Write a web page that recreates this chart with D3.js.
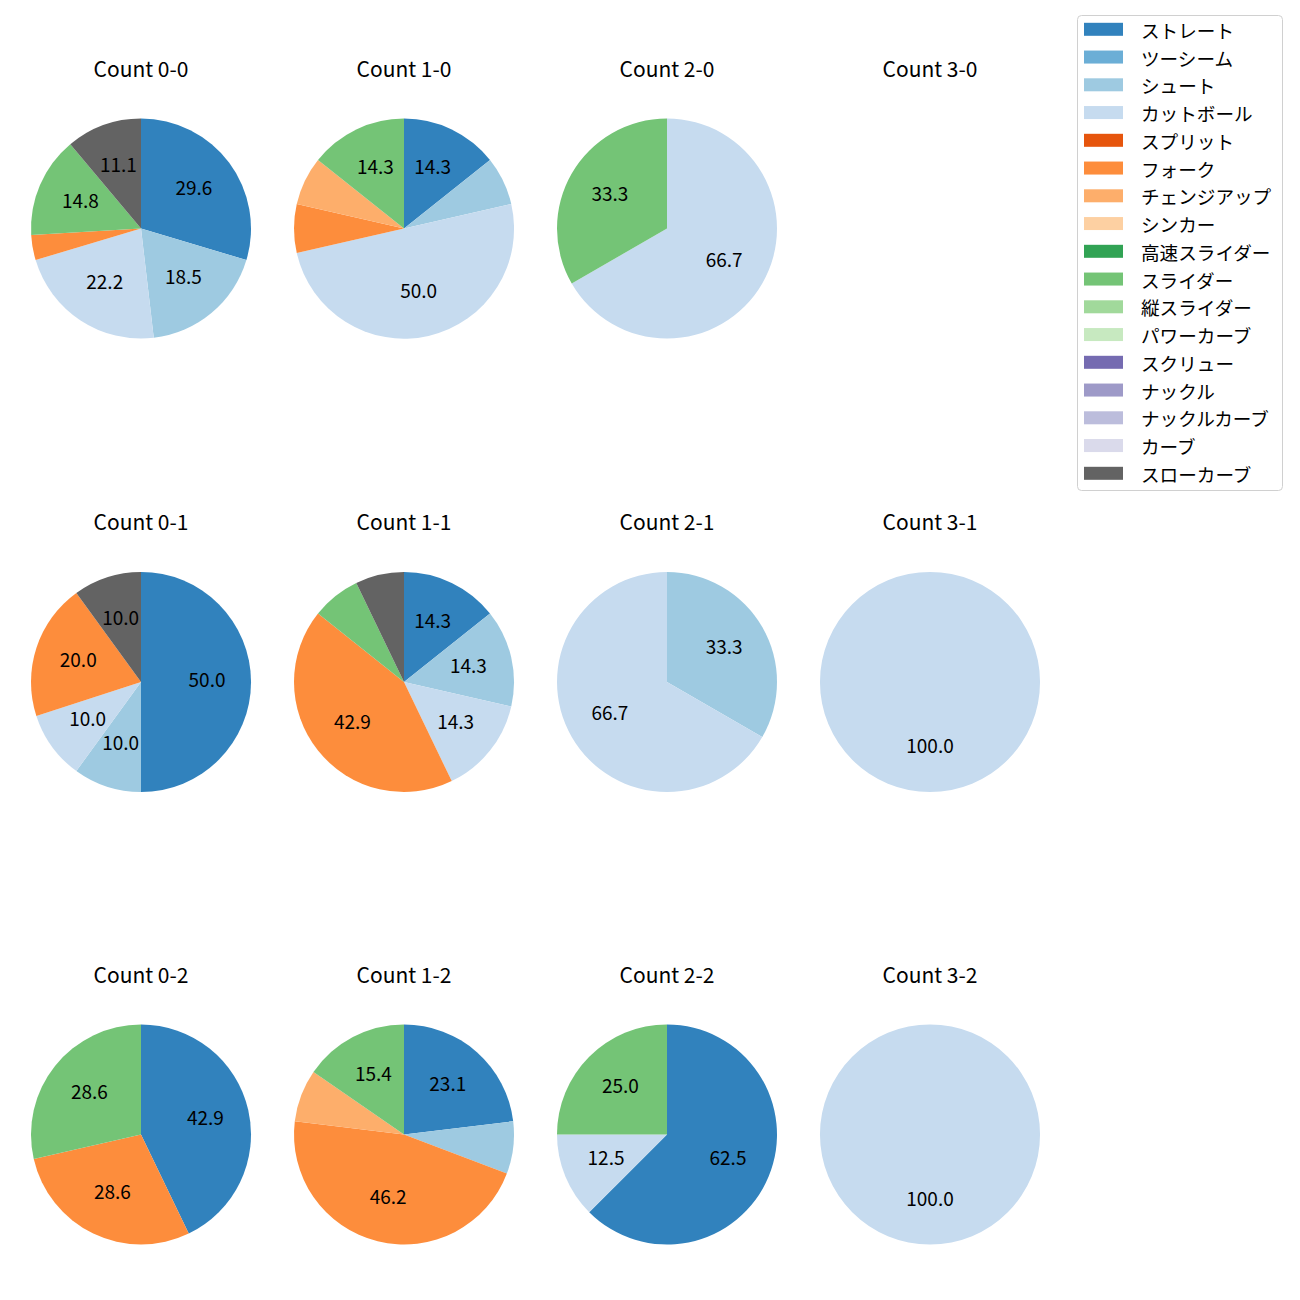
<!DOCTYPE html>
<html><head><meta charset="utf-8">
<script src="https://cdn.jsdelivr.net/npm/d3@7"></script>
<style>body{margin:0;background:#fff;} text{font-family:"Noto Sans CJK JP","Noto Sans",sans-serif;}</style>
</head><body>
<svg id="chart" width="1300" height="1300"></svg>
<script>
const pitchTypes = ["ストレート","ツーシーム","シュート","カットボール","スプリット","フォーク","チェンジアップ","シンカー","高速スライダー","スライダー","縦スライダー","パワーカーブ","スクリュー","ナックル","ナックルカーブ","カーブ","スローカーブ"];
const pitchColors = ["#3182bd","#6baed6","#9ecae1","#c6dbef","#e6550d","#fd8d3c","#fdae6b","#fdd0a2","#31a354","#74c476","#a1d99b","#c7e9c0","#756bb1","#9e9ac8","#bcbddc","#dadaeb","#636363"];
const countTitles = ["Count 0-0","Count 1-0","Count 2-0","Count 3-0","Count 0-1","Count 1-1","Count 2-1","Count 3-1","Count 0-2","Count 1-2","Count 2-2","Count 3-2"];
const count00 = [8,0,5,6,0,1,0,0,0,4,0,0,0,0,0,0,3];
const count10 = [2,0,1,7,0,1,1,0,0,2,0,0,0,0,0,0,0];
const count20 = [0,0,0,2,0,0,0,0,0,1,0,0,0,0,0,0,0];
const count30 = [0,0,0,0,0,0,0,0,0,0,0,0,0,0,0,0,0];
const count01 = [5,0,1,1,0,2,0,0,0,0,0,0,0,0,0,0,1];
const count11 = [2,0,2,2,0,6,0,0,0,1,0,0,0,0,0,0,1];
const count21 = [0,0,1,2,0,0,0,0,0,0,0,0,0,0,0,0,0];
const count31 = [0,0,0,1,0,0,0,0,0,0,0,0,0,0,0,0,0];
const count02 = [3,0,0,0,0,2,0,0,0,2,0,0,0,0,0,0,0];
const count12 = [3,0,1,0,0,6,1,0,0,2,0,0,0,0,0,0,0];
const count22 = [5,0,0,1,0,0,0,0,0,2,0,0,0,0,0,0,0];
const count32 = [0,0,0,1,0,0,0,0,0,0,0,0,0,0,0,0,0];
const allCounts = [count00,count10,count20,count30,count01,count11,count21,count31,count02,count12,count22,count32];

const svg = d3.select("#chart");
const colX = [141, 404, 667, 930];
const rowY = [228.5, 682, 1134.5];
const R = 110;
const color = d3.scaleOrdinal().domain(pitchTypes).range(pitchColors);
const pie = d3.pie().sort(null).value(d => d.v).startAngle(0).endAngle(2*Math.PI);
const arc = d3.arc().innerRadius(0).outerRadius(R);
const labelArc = d3.arc().innerRadius(R*0.6).outerRadius(R*0.6);
const labelFs = 19, titleFs = 21;

allCounts.forEach((vals, i) => {
  const cx = colX[i % 4], cy = rowY[Math.floor(i / 4)];
  const g = svg.append("g").attr("transform", `translate(${cx},${cy})`);
  svg.append("text").attr("x", cx).attr("y", cy - 159.5 + 0.365*titleFs)
    .attr("text-anchor","middle").attr("font-size", titleFs).attr("fill","#000").text(countTitles[i]);
  const data = vals.map((v, k) => ({name: pitchTypes[k], v})).filter(d => d.v > 0);
  const total = d3.sum(data, d => d.v);
  if (total === 0) return;
  const arcs = pie(data);
  g.selectAll("path").data(arcs).join("path").attr("d", arc).attr("fill", d => color(d.data.name));
  g.selectAll("text").data(arcs.filter(d => d.data.v / total * 100 >= 10)).join("text")
    .attr("transform", d => { const c = labelArc.centroid(d); return `translate(${c[0]},${c[1] + 0.365*labelFs - 1.5})`; })
    .attr("text-anchor","middle")
    .attr("font-size", labelFs).attr("fill","#000")
    .text(d => (d.data.v / total * 100).toFixed(1));
});

// legend
const lg = svg.append("g");
lg.append("rect").attr("x",1077.5).attr("y",15.5).attr("width",205).attr("height",475)
  .attr("rx",4).attr("fill","#fff").attr("stroke","#d0d0d0");
pitchTypes.forEach((p, k) => {
  const y = 29.3 + k * 27.75;
  lg.append("rect").attr("x",1084).attr("y",y-6.5).attr("width",39).attr("height",13).attr("fill",color(p));
  lg.append("text").attr("x",1141).attr("y",y).attr("dominant-baseline","central")
    .attr("font-size",18.6).attr("fill","#000").text(p);
});
</script>
</body></html>
